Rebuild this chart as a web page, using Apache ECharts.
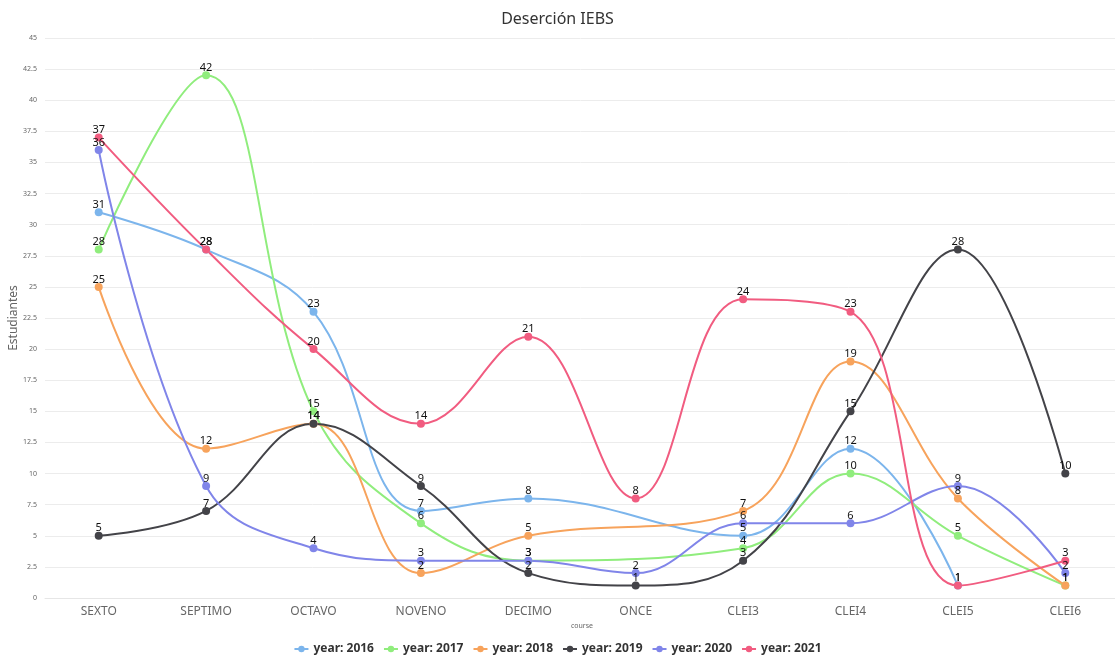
<!DOCTYPE html>
<html>
<head>
<meta charset="utf-8">
<title>Deserción IEBS</title>
<script src="https://cdn.jsdelivr.net/npm/echarts@6/dist/echarts.min.js"></script>
<style>
  html, body { margin: 0; padding: 0; background: #fff; }
  #chart { width: 1115px; height: 658px; }
</style>
</head>
<body>
<div id="chart"></div>
<script>
// Courses on the horizontal axis
const courses = ['SEXTO', 'SEPTIMO', 'OCTAVO', 'NOVENO', 'DECIMO', 'ONCE', 'CLEI3', 'CLEI4', 'CLEI5', 'CLEI6'];

// Dropouts per course and year (null = no record for that course)
const y2016 = [31, 28, 23, 7, 8, null, 5, 12, 1, null];
const y2017 = [28, 42, 15, 6, 3, null, 4, 10, 5, 1];
const y2018 = [25, 12, 14, 2, 5, null, 7, 19, 8, 1];
const y2019 = [5, 7, 14, 9, 2, 1, 3, 15, 28, 10];
const y2020 = [36, 9, 4, 3, 3, 2, 6, 6, 9, 2];
const y2021 = [37, 28, 20, 14, 21, 8, 24, 23, 1, 3];

const yearNames = ['year: 2016', 'year: 2017', 'year: 2018', 'year: 2019', 'year: 2020', 'year: 2021'];
const yearValues = [y2016, y2017, y2018, y2019, y2020, y2021];
const palette = ['#7cb5ec', '#90ed7d', '#f7a35c', '#434348', '#8085e9', '#f15c80'];

const FONT = '"Noto Sans", "DejaVu Sans", sans-serif';

const series = yearNames.map((name, i) => ({
  name: name,
  type: 'line',
  data: yearValues[i],
  connectNulls: true,
  smooth: 0.4,
  symbol: 'circle',
  symbolSize: 8,
  lineStyle: { width: 2, color: palette[i] },
  itemStyle: { color: palette[i] },
  label: {
    show: true,
    position: 'top',
    distance: -2,
    color: '#111',
    fontSize: 11,
    fontFamily: FONT
  },
  emphasis: { disabled: true }
}));

const chart = echarts.init(document.getElementById('chart'), null, { renderer: 'canvas' });
chart.setOption({
  animation: false,
  color: palette,
  title: {
    text: 'Deserción IEBS',
    left: 'center',
    top: 6,
    textStyle: { fontFamily: FONT, fontSize: 16, fontWeight: 'normal', color: '#333' }
  },
  legend: {
    top: 638,
    left: 'center',
    itemWidth: 14,
    itemHeight: 8,
    itemGap: 9,
    textStyle: { fontFamily: FONT, fontSize: 12, fontWeight: 'bold', color: '#333' },
    data: yearNames
  },
  grid: {
    left: 45, width: 1074, top: 38, height: 560,
    containLabel: false,
    outerBoundsMode: 'none'
  },
  xAxis: {
    type: 'category',
    data: courses,
    boundaryGap: true,
    name: 'course',
    nameLocation: 'middle',
    nameGap: 24,
    nameMoveOverlap: false,
    nameTextStyle: { fontFamily: FONT, fontSize: 7, color: '#666' },
    axisLine: { lineStyle: { color: '#e6e6e6' } },
    axisTick: { show: false },
    axisLabel: { fontFamily: FONT, fontSize: 12, color: '#666', margin: 8 }
  },
  yAxis: {
    type: 'value',
    min: 0,
    max: 45,
    interval: 2.5,
    name: 'Estudiantes',
    nameLocation: 'middle',
    nameGap: 25,
    nameMoveOverlap: false,
    nameTextStyle: { fontFamily: FONT, fontSize: 12, color: '#666' },
    axisLine: { show: false },
    axisTick: { show: false },
    axisLabel: { fontFamily: FONT, fontSize: 7, color: '#666', margin: 8 },
    splitLine: { lineStyle: { color: '#ececec' } }
  },
  series: series
});
</script>
</body>
</html>
